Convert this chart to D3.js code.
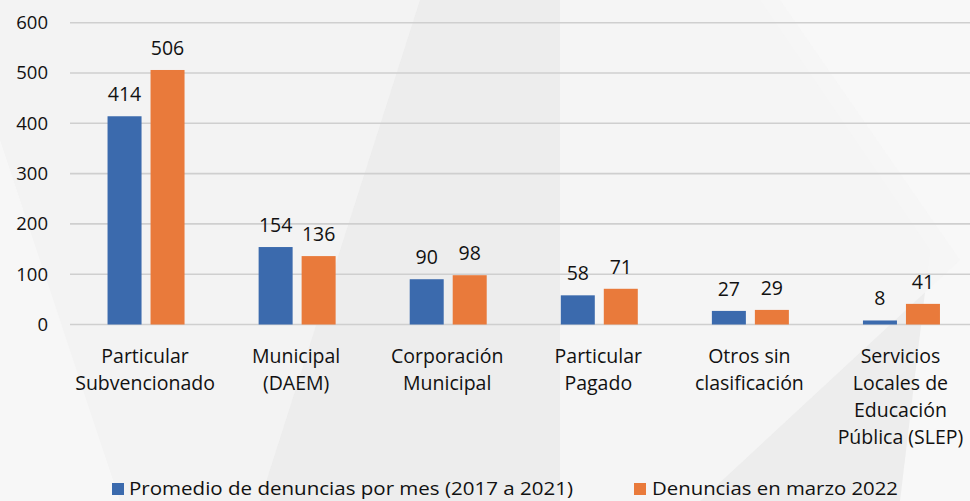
<!DOCTYPE html>
<html><head><meta charset="utf-8">
<script src="https://cdn.jsdelivr.net/npm/d3@7"></script>
<style>html,body{margin:0;padding:0;background:#efefef;}svg{display:block;}</style>
</head><body>
<svg id="chart" width="970" height="501"></svg>
<script>
const categories = [
  ["Particular","Subvencionado"],
  ["Municipal","(DAEM)"],
  ["Corporación","Municipal"],
  ["Particular","Pagado"],
  ["Otros sin","clasificación"],
  ["Servicios","Locales de","Educación","Pública (SLEP)"]
];
const seriesNames = ["Promedio de denuncias por mes (2017 a 2021)", "Denuncias en marzo 2022"];
const promedio = [414, 154, 90, 58, 27, 8];
const marzo = [506, 136, 98, 71, 29, 41];
const yTicks = [0, 100, 200, 300, 400, 500, 600];
const colors = ["#3b6aad", "#e97a3b"];

const svg = d3.select("#chart");
const font = "'Open Sans', Lato, sans-serif";

// background texture
const bg = svg.append("g");
bg.append("rect").attr("width",970).attr("height",501).attr("fill","#ededed");
const polys = [
  [[0,0],[420,0],[260,501],[0,501]],
  [[760,0],[970,0],[970,501],[900,501],[930,250]],
  [[560,0],[780,0],[960,260],[700,501],[560,501]],
  [[0,140],[120,501],[0,501]]
];
const polyFill = ["#f3f3f3","#f8f8f8","#f5f5f5","#f7f7f7"];
polys.forEach((p,i)=>bg.append("polygon").attr("points",p.map(d=>d.join(",")).join(" ")).attr("fill",polyFill[i]).attr("opacity",0.9));

const keys = categories.map(c => c.join(" "));
const x0 = d3.scaleBand().domain(keys).range([70.5, 977]).padding(0);
const y = d3.scaleLinear().domain([0, 600]).range([324.5, 22.7]);
const x1 = d3.scaleBand().domain([0,1]).range([x0.bandwidth()/2 - 38.5, x0.bandwidth()/2 + 38.5]).paddingInner(9/43);

// gridlines
svg.append("g").selectAll("line").data(yTicks).join("line")
  .attr("x1", 70).attr("x2", 970)
  .attr("y1", d => y(d)).attr("y2", d => y(d))
  .attr("stroke", "#cfcfcf").attr("stroke-width", 1.6);

// y axis labels
svg.append("g").selectAll("text").data(yTicks).join("text")
  .attr("x", 48).attr("y", d => y(d)).attr("dy", "0.35em")
  .attr("text-anchor", "end").attr("font-family", font).attr("font-size", 18.5)
  .attr("fill", "#111").text(d => d);

const data = keys.map((k,i) => ({key:k, vals:[promedio[i], marzo[i]]}));

const groups = svg.append("g").selectAll("g").data(data).join("g")
  .attr("transform", d => `translate(${x0(d.key)},0)`);

groups.selectAll("rect").data(d => d.vals.map((v,j)=>({v,j}))).join("rect")
  .attr("x", d => x1(d.j)).attr("width", x1.bandwidth())
  .attr("y", d => y(d.v)).attr("height", d => y(0) - y(d.v))
  .attr("fill", d => colors[d.j]);

groups.selectAll("text.val").data(d => d.vals.map((v,j)=>({v,j}))).join("text")
  .attr("class","val")
  .attr("x", d => x1(d.j) + x1.bandwidth()/2).attr("y", d => y(d.v) - 15)
  .attr("text-anchor","middle").attr("font-family", font).attr("font-size", 19.5)
  .attr("fill","#111").text(d => d.v);

// category labels
svg.append("g").selectAll("text").data(categories).join("text")
  .attr("transform", (d,i) => `translate(${x0(keys[i]) + x0.bandwidth()/2 - 1},0)`)
  .attr("text-anchor","middle").attr("font-family", font).attr("font-size", 19.5)
  .attr("fill","#111")
  .each(function(lines){
    d3.select(this).selectAll("tspan").data(lines).join("tspan")
      .attr("x",0).attr("y",(l,k)=>363 + k*27).text(l=>l);
  });

// legend
const legendItems = [{sq:112, tx:129, w:444},{sq:634, tx:652, w:246}];
const lg = svg.append("g");
seriesNames.forEach((name,i)=>{
  const it = legendItems[i];
  lg.append("rect").attr("x", it.sq).attr("y", 483).attr("width", 12).attr("height", 12).attr("fill", colors[i]);
  lg.append("text").attr("x", it.tx).attr("y", 495).attr("font-family", font).attr("font-size", 19)
    .attr("fill","#111").attr("textLength", it.w).attr("lengthAdjust","spacingAndGlyphs").text(name);
});
</script>
</body></html>
